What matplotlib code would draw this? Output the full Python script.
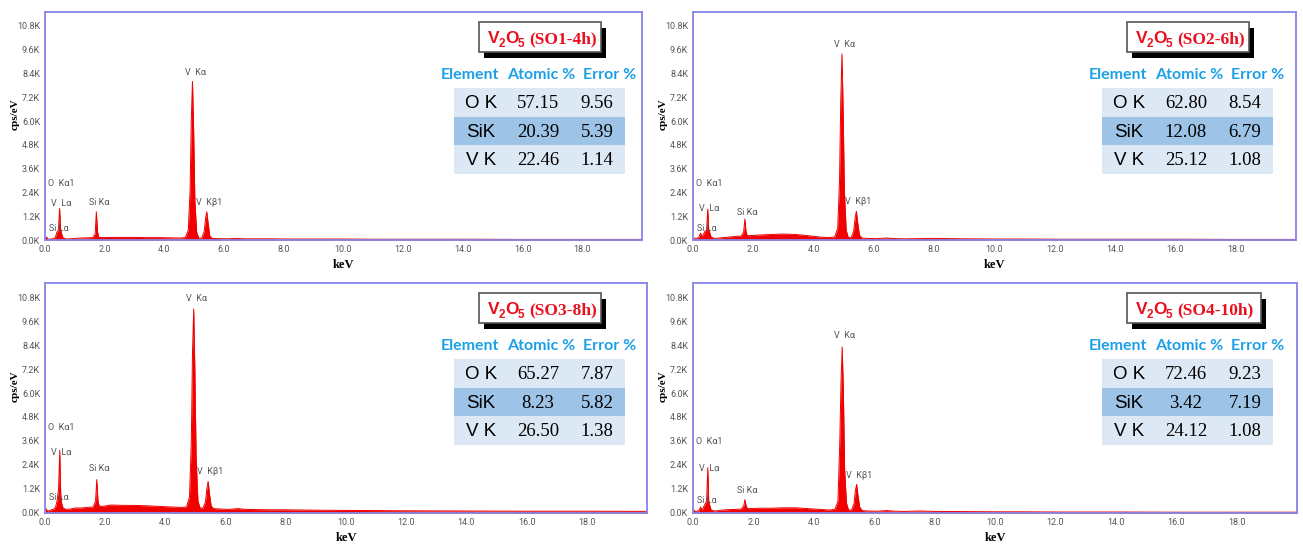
import matplotlib.pyplot as plt
import matplotlib.patches as patches

W, H = 1303, 549

# energy grid (keV), shared by the four spectra
energy = [0.00, 0.05, 0.10, 0.15, 0.20, 0.25, 0.30, 0.35, 0.40, 0.45,
          0.49, 0.52, 0.55, 0.60, 0.70, 0.85, 1.00, 1.20, 1.40, 1.60,
          1.68, 1.72, 1.76, 1.80, 1.90, 2.20, 2.60, 3.00, 3.40, 3.80,
          4.20, 4.50, 4.70, 4.80, 4.86, 4.90, 4.94, 4.98, 5.02, 5.08,
          5.15, 5.25, 5.33, 5.38, 5.42, 5.46, 5.52, 5.60, 5.80, 6.10,
          6.40, 6.70, 7.00, 7.50, 8.00, 9.00, 10.0, 11.0, 12.0, 14.0,
          16.0, 18.0, 20.0]

# counts in K cps/eV
counts_so1 = [0.10, 0.15, 0.05, 0.04, 0.05, 0.06, 0.08, 0.15, 0.40, 0.50,
              1.59, 0.60, 0.35, 0.12, 0.05, 0.06, 0.08, 0.10, 0.11, 0.12,
              0.30, 1.42, 0.40, 0.14, 0.12, 0.13, 0.13, 0.13, 0.12, 0.12,
              0.11, 0.10, 0.12, 0.50, 2.50, 6.00, 8.00, 5.50, 2.00, 0.40,
              0.10, 0.10, 0.40, 1.10, 1.42, 0.90, 0.20, 0.08, 0.07, 0.06,
              0.08, 0.06, 0.06, 0.06, 0.05, 0.05, 0.05, 0.04, 0.04, 0.04,
              0.03, 0.03, 0.03]
counts_so2 = [0.05, 0.10, 0.08, 0.10, 0.15, 0.35, 0.15, 0.30, 0.45, 0.50,
              1.56, 0.55, 0.40, 0.15, 0.08, 0.10, 0.12, 0.15, 0.18, 0.20,
              0.40, 1.06, 0.40, 0.22, 0.22, 0.25, 0.28, 0.30, 0.28, 0.22,
              0.15, 0.12, 0.15, 0.60, 3.00, 7.00, 9.38, 6.50, 2.50, 0.50,
              0.12, 0.12, 0.45, 1.15, 1.45, 0.90, 0.25, 0.10, 0.08, 0.07,
              0.10, 0.07, 0.06, 0.07, 0.08, 0.06, 0.05, 0.05, 0.04, 0.04,
              0.04, 0.03, 0.03]
counts_so3 = [0.30, 0.15, 0.10, 0.12, 0.15, 0.18, 0.20, 0.30, 0.60, 1.20,
              3.13, 1.00, 0.50, 0.25, 0.18, 0.20, 0.25, 0.25, 0.28, 0.30,
              0.60, 1.67, 0.60, 0.35, 0.33, 0.40, 0.38, 0.38, 0.36, 0.33,
              0.30, 0.28, 0.30, 0.80, 3.50, 8.00, 10.20, 7.00, 2.80, 0.60,
              0.25, 0.25, 0.55, 1.25, 1.58, 1.00, 0.35, 0.22, 0.20, 0.18,
              0.22, 0.18, 0.17, 0.16, 0.16, 0.14, 0.13, 0.12, 0.11, 0.10,
              0.09, 0.09, 0.08]
counts_so4 = [0.20, 0.10, 0.08, 0.10, 0.12, 0.30, 0.12, 0.30, 0.45, 0.60,
              2.27, 0.60, 0.40, 0.15, 0.10, 0.12, 0.15, 0.17, 0.18, 0.20,
              0.35, 0.67, 0.35, 0.22, 0.22, 0.24, 0.24, 0.26, 0.26, 0.22,
              0.18, 0.15, 0.18, 0.60, 3.50, 6.50, 8.30, 6.00, 2.20, 0.50,
              0.15, 0.15, 0.45, 1.15, 1.43, 0.90, 0.30, 0.12, 0.10, 0.09,
              0.12, 0.09, 0.08, 0.10, 0.08, 0.07, 0.06, 0.06, 0.05, 0.05,
              0.04, 0.04, 0.04]

samples = ["SO1-4h", "SO2-6h", "SO3-8h", "SO4-10h"]
elements = ["O K", "SiK", "V K"]
atomic_pct = [[57.15, 20.39, 22.46],
              [62.80, 12.08, 25.12],
              [65.27, 8.23, 26.50],
              [72.46, 3.42, 24.12]]
error_pct = [[9.56, 5.39, 1.14],
             [8.54, 6.79, 1.08],
             [7.87, 5.82, 1.38],
             [9.23, 7.19, 1.08]]

peak_names = ["O  K\u03b11", "V  L\u03b1", "Si L\u03b1", "Si K\u03b1", "V  K\u03b1", "V  K\u03b21"]
peak_x = [0.10, 0.19, 0.14, 1.80, 5.03, 5.05]
peak_y = [[2.83, 1.82, 0.56, 1.89, 8.47, 1.89],
          [2.86, 1.61, 0.60, 1.39, 9.88, 1.93],
          [4.30, 3.02, 0.80, 2.22, 10.72, 2.08],
          [3.56, 2.22, 0.64, 1.14, 8.86, 1.90]]

x_ticks = [0, 2, 4, 6, 8, 10, 12, 14, 16, 18]
y_ticks = [0, 1.2, 2.4, 3.6, 4.8, 6.0, 7.2, 8.4, 9.6, 10.8]

fig = plt.figure(figsize=(W / 100, H / 100), dpi=100)

panels = [(45, 12, 642, 240), (693, 12, 1296, 240),
          (45, 283, 647, 513), (693, 283, 1297, 513)]
counts = [counts_so1, counts_so2, counts_so3, counts_so4]
small = ['Roboto', 'DejaVu Sans']
red = "#e8101e"


def px_rect(x, y, w, h, **kw):
    r = patches.Rectangle((x / W, 1 - (y + h) / H), w / W, h / H,
                          transform=fig.transFigure, **kw)
    fig.add_artist(r)


def px_text(x, y, s, **kw):
    fig.text(x / W, 1 - y / H, s, **kw)


for i in range(4):
    l, t, r, b = panels[i]
    ax = fig.add_axes([l / W, 1 - b / H, (r - l) / W, (b - t) / H])
    ax.fill_between(energy, counts[i], 0, color="#f00000", lw=0)
    ax.plot(energy, counts[i], color="#f00000", lw=0.7)
    ax.set_xlim(0, 20)
    ax.set_ylim(0, 11.5)
    ax.set_xticks(x_ticks)
    ax.set_xticklabels(["%.1f" % v for v in x_ticks], family=small)
    ax.set_yticks(y_ticks)
    ax.set_yticklabels(["%.1fK" % v for v in y_ticks], family=small)
    ax.tick_params(length=0, labelsize=6.5, labelcolor="#555555", pad=3.5)
    for s in ax.spines.values():
        s.set_color("#8585e8")
        s.set_linewidth(1.3)

    ax.text(-30 / (r - l), 0.55, "cps/eV", rotation=90, transform=ax.transAxes,
            ha="center", va="center", family="Liberation Serif",
            weight="bold", size=8)
    ax.text(0.5, -25 / (b - t), "keV", transform=ax.transAxes, ha="center",
            va="center", family="Liberation Serif", weight="bold", size=9)

    aligns = ["left", "left", "left", "center", "center", "left"]
    for k in range(len(peak_names)):
        ax.text(peak_x[k], peak_y[i][k], peak_names[k], ha=aligns[k],
                va="center", size=6.5, color="#555555", family=small)

    # sample title box with shadow
    bw = 122 if len(samples[i]) < 7 else 134
    bx, by = l + 434, t + 10
    px_rect(bx + 5, by + 6, bw, 30, facecolor="black", edgecolor="none")
    px_rect(bx, by, bw, 30, facecolor="white", edgecolor="#555555", lw=1.2)
    sans_b = dict(color=red, family="Liberation Sans", weight="bold", va="baseline")
    px_text(bx + 9, by + 21, "V", size=12.5, **sans_b)
    px_text(bx + 20, by + 25, "2", size=8.5, **sans_b)
    px_text(bx + 26, by + 21, "O", size=12.5, **sans_b)
    px_text(bx + 39, by + 25, "5", size=8.5, **sans_b)
    px_text(bx + 50, by + 21, "(" + samples[i] + ")", color=red,
            size=12.5, family="Liberation Serif", weight="bold", va="baseline")

    # composition table
    hx = [l + 425, l + 496, l + 565]
    for k, h in enumerate(["Element", "Atomic %", "Error %"]):
        px_text(hx[k], t + 63, h, color="#1ea0e6", size=11.5, family="Lato",
                weight="bold", ha="center", va="center")
    row_h = 28.7
    for k in range(3):
        ry = t + 76 + k * row_h
        fc = "#9dc3e6" if k == 1 else "#dde8f5"
        px_rect(l + 409, ry, 171, row_h, facecolor=fc, edgecolor="none")
        cy = ry + row_h / 2 + 1
        px_text(l + 436, cy, elements[k], size=13.5, family="Liberation Sans",
                ha="center", va="center")
        px_text(l + 493, cy, "%.2f" % atomic_pct[i][k], size=13.5,
                family="Liberation Serif", ha="center", va="center")
        px_text(l + 552, cy, "%.2f" % error_pct[i][k], size=13.5,
                family="Liberation Serif", ha="center", va="center")

plt.savefig("out.png", dpi=100)
